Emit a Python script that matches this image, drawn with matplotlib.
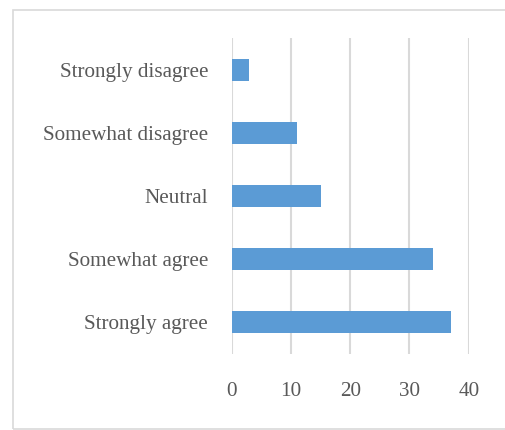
import matplotlib
matplotlib.use('Agg')
import matplotlib.pyplot as plt
from matplotlib.patches import Rectangle

# survey answers, top of chart first
categories = ['Strongly disagree', 'Somewhat disagree', 'Neutral', 'Somewhat agree', 'Strongly agree']
values = [3, 11, 15, 34, 37]
xticks = [0, 10, 20, 30, 40]

plt.rcParams['font.family'] = ['Liberation Serif', 'DejaVu Serif']

fig = plt.figure(figsize=(5.05, 4.30), dpi=100)
ax = fig.add_axes([231.7/505, 1-354/430, (468.7-231.7)/505, (354-38)/430])

# reversed so the first category sits on top
pos = list(range(len(categories)))[::-1]
ax.barh(pos, values, height=0.35, color='#5B9BD5', zorder=3)

ax.set_xlim(0, 40)
ax.set_ylim(-0.5, 4.5)
ax.set_xticks(xticks)
ax.set_yticks(pos)
ax.set_yticklabels(categories)
ax.grid(axis='x', color='#d9d9d9', linewidth=1.5, zorder=0)
ax.tick_params(axis='both', length=0, labelsize=15.2, labelcolor='#595959')
ax.tick_params(axis='y', pad=17)
ax.tick_params(axis='x', pad=20)
for s in ax.spines.values():
    s.set_visible(False)

# light frame round the chart (right side runs off the picture)
fig.patches.append(Rectangle((13/505, 1.5/430), 500/505, (420.5-1.5)/430,
                             transform=fig.transFigure, fill=False,
                             edgecolor='#d9d9d9', linewidth=1.2))

fig.savefig('out.png', dpi=100)
